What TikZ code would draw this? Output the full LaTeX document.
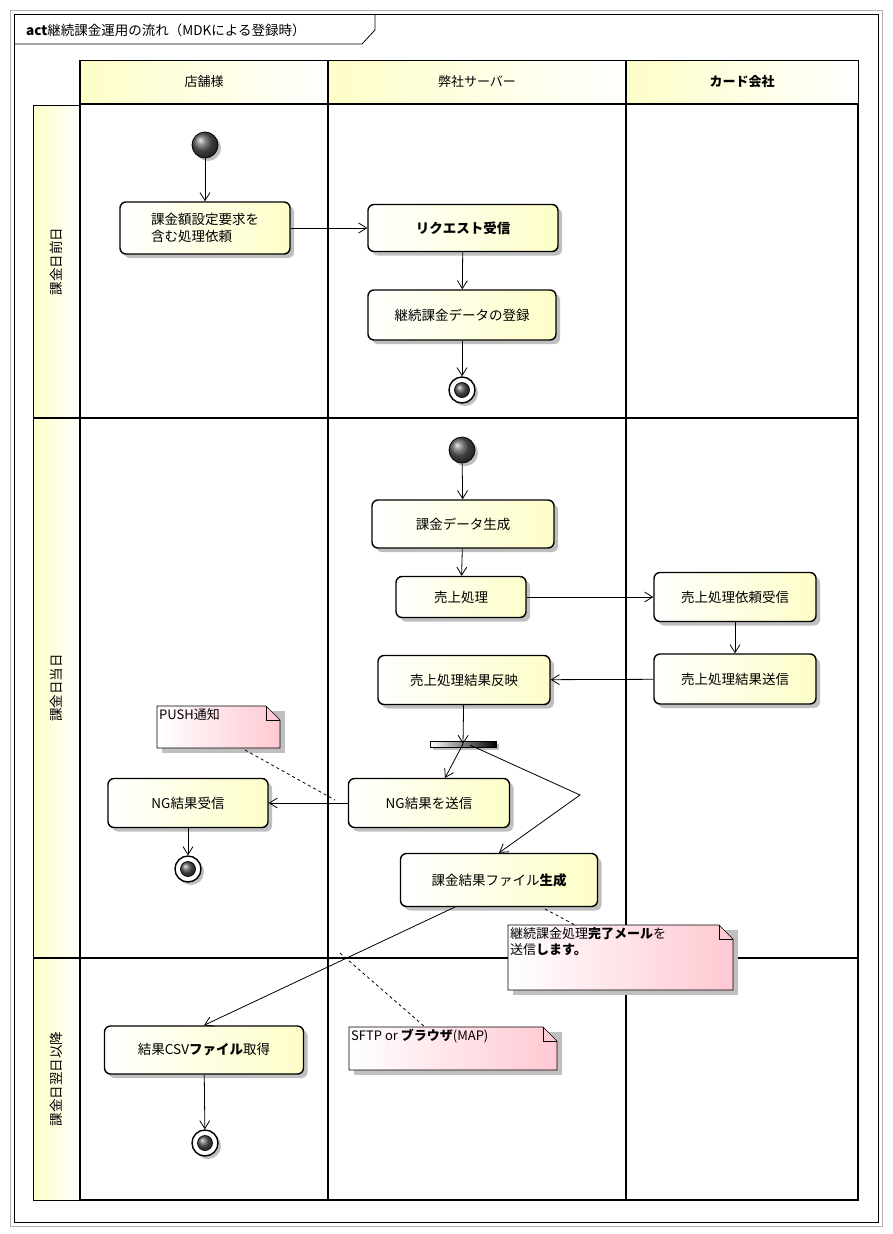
\documentclass[tikz,border=0pt]{standalone}
\usepackage{fontspec}
\setmainfont{Noto Sans CJK JP}
\usetikzlibrary{shadows,arrows.meta,shapes.geometric}
\definecolor{ylw}{RGB}{254,254,200}
\definecolor{pnk}{RGB}{255,200,210}
\tikzset{
  x=1pt,y=-1pt,
  act/.style={draw,line width=1.4pt,rounded corners=6pt,left color=white,right color=ylw,
    drop shadow={shadow xshift=4pt,shadow yshift=-4pt,fill=gray!50,opacity=1},font=\fontsize{13.5}{17}\selectfont,align=center,inner sep=2pt},
  hdr/.style={draw,line width=1pt,left color=ylw,right color=white,font=\fontsize{13}{15}\selectfont},
  ar/.style={-{Straight Barb[length=8pt,width=10pt]},line width=0.8pt},
  startn/.style={circle,draw,line width=0.8pt,minimum size=26pt,inner sep=0,ball color=gray!70!black,
    drop shadow={shadow xshift=3pt,shadow yshift=-3pt,fill=gray!50,opacity=1}},
  endn/.style={circle,draw,line width=1.4pt,fill=white,minimum size=26pt,inner sep=0,
    drop shadow={shadow xshift=3pt,shadow yshift=-3pt,fill=gray!50,opacity=1}},
  notet/.style={font=\fontsize{13}{16}\selectfont,align=left,anchor=north west,inner sep=2pt},
  dsh/.style={dashed,line width=0.8pt}
}
\newcommand{\finalmk}[2]{\node[endn] (#1) at (#2) {}; \fill[ball color=gray!70!black] (#2) circle (7.5pt); \draw[line width=0.6pt] (#2) circle (7.5pt);}
\newcommand{\notebx}[6]{% name x1 y1 x2 y2 text
  \fill[gray!50] (#2+5,#3+5) -- (#4+5,#3+5) -- (#4+5,#5+5) -- (#2+5,#5+5) -- cycle;
  \shade[left color=white,right color=pnk,draw=black,line width=0.6pt] (#2,#3) -- (#4-14,#3) -- (#4,#3+14) -- (#4,#5) -- (#2,#5) -- cycle;
  \draw[line width=0.6pt] (#4-14,#3) -- (#4-14,#3+14) -- (#4,#3+14);
  \node[notet] (#1) at (#2,#3) {#6};}
\begin{document}
\begin{tikzpicture}
\useasboundingbox (0,0) rectangle (892,1234);
\fill[white] (0,0) rectangle (892,1234);
\draw[gray!60,line width=0.8pt] (10,10) rectangle (882,1226);
\draw[line width=0.8pt] (14,14) rectangle (878,1222);
\draw[line width=0.8pt] (14,44) -- (362,44) -- (375,30) -- (375,14);
\node[anchor=west,font=\fontsize{13.5}{16}\selectfont,inner sep=0] (title) at (26,30) {\textbf{act}継続課金運用の流れ（MDKによる登録時）};
% headers
\node[hdr,minimum width=248pt,minimum height=44pt] (h1) at (204,82) {店舗様};
\node[hdr,minimum width=298pt,minimum height=44pt] (h2) at (477,82) {弊社サーバー};
\node[hdr,minimum width=232pt,minimum height=44pt,font=\fontsize{13}{15}\selectfont\bfseries] (h3) at (742,82) {カード会社};
\node[hdr,minimum width=47pt,minimum height=313pt] (r1) at (56.5,261.5) {};
\node[rotate=90,font=\fontsize{13.5}{16}\selectfont] (r1t) at (56.5,261.5) {課金日前日};
\node[hdr,minimum width=47pt,minimum height=540pt] (r2) at (56.5,688) {};
\node[rotate=90,font=\fontsize{13.5}{16}\selectfont] (r2t) at (56.5,688) {課金日当日};
\node[hdr,minimum width=47pt,minimum height=242pt] (r3) at (56.5,1079) {};
\node[rotate=90,font=\fontsize{13.5}{16}\selectfont] (r3t) at (56.5,1079) {課金日翌日以降};
\draw[line width=1.4pt] (80,104) rectangle (858,1200);
\draw[line width=1.4pt] (328,60) -- (328,1200) (626,60) -- (626,1200);
\draw[line width=1.4pt] (33,418) -- (858,418) (33,958) -- (858,958);
\draw[line width=1.4pt] (80,60) -- (80,104);
% nodes
\node[startn] (s1) at (205,145) {};
\node[act,minimum width=170pt,minimum height=52pt,align=left] (req) at (205,228) {課金額設定要求を\\含む処理依頼};
\node[act,minimum width=190pt,minimum height=47pt] (recv) at (463,228) {\textbf{リクエスト受信}};
\node[act,minimum width=188pt,minimum height=50pt] (reg) at (462,315) {継続課金データの登録};
\finalmk{e1}{462,390}
\node[startn] (s2) at (462,450) {};
\node[act,minimum width=182pt,minimum height=48pt] (gen) at (463,524) {課金データ生成};
\node[act,minimum width=130pt,minimum height=41pt] (sale) at (461,597) {売上処理};
\node[act,minimum width=162pt,minimum height=49pt] (srecv) at (735,597) {売上処理依頼受信};
\node[act,minimum width=162pt,minimum height=50pt] (ssend) at (735,679) {売上処理結果送信};
\node[act,minimum width=172pt,minimum height=49pt] (refl) at (464,680) {売上処理結果反映};
\fill[gray!50] (433,744) rectangle (499,750);
\shade[left color=white,right color=black,draw=black] (430,741) rectangle (496,747);
\coordinate (fork) at (463,744);
\coordinate (forkb) at (470,745);
\coordinate (bend) at (580,795);
\coordinate (ngtop) at (445,778);
\coordinate (filebot) at (455,907);
\node[act,minimum width=161pt,minimum height=49pt] (ngs) at (429,803) {NG結果を送信};
\node[act,minimum width=160pt,minimum height=49pt] (ngr) at (188,803) {NG結果受信};
\finalmk{e2}{188,869}
\node[act,minimum width=197pt,minimum height=53pt] (file) at (499,880) {課金結果ファイル\textbf{生成}};
\node[act,minimum width=199pt,minimum height=48pt] (csv) at (204,1050) {結果CSV\textbf{ファイル}取得};
\finalmk{e3}{205,1143}
% notes
\notebx{n1}{157}{706}{280}{748}{PUSH通知}
\notebx{n2}{508}{925}{733}{990}{継続課金処理\textbf{完了メール}を\\送信\textbf{します。}}
\notebx{n3}{349}{1027}{557}{1070}{SFTP or \textbf{ブラウザ}(MAP)}
\draw[dsh] (245,750) -- (335,800);
\draw[dsh] (545,909) -- (575,925);
\draw[dsh] (340,953) -- (425,1027);
% edges
\draw[ar] (s1) -- (req);
\draw[ar] (req) -- (recv);
\draw[ar] (recv) -- (reg);
\draw[ar] (reg) -- (e1);
\draw[ar] (s2) -- (gen);
\draw[ar] (gen) -- (sale);
\draw[ar] (sale) -- (srecv);
\draw[ar] (srecv) -- (ssend);
\draw[ar] (ssend) -- (refl);
\draw[ar] (refl) -- (fork);
\draw[ar] (fork) -- (ngtop);
\draw[ar] (forkb) -- (bend) -- (file.north);
\draw[ar] (ngs) -- (ngr);
\draw[ar] (ngr) -- (e2);
\draw[ar] (filebot) -- (csv.north);
\draw[ar] (csv) -- (e3);
\end{tikzpicture}
\end{document}
